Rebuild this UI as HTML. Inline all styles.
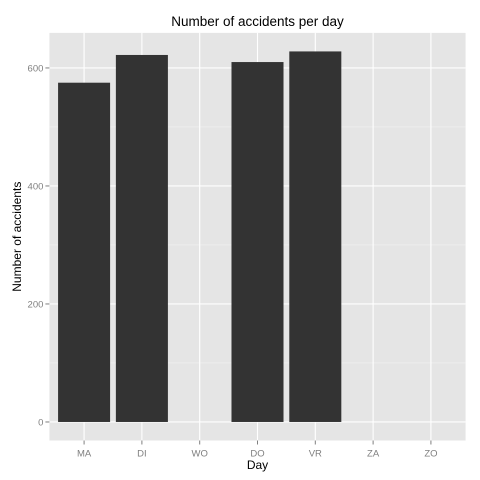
<!DOCTYPE html>
<html><head><meta charset="utf-8"><style>
body{margin:0;background:#fff;}
svg{display:block;font-family:"Liberation Sans",sans-serif;}
</style></head><body>
<svg id="chart" width="480" height="480"></svg>
<script>
const categories = ["MA","DI","WO","DO","VR","ZA","ZO"];
const values = [575, 622, 0, 610, 628, 0, 0];
const yTicks = [0, 200, 400, 600];
const yMinor = [100, 300, 500];

const svg = document.getElementById('chart');
const NS = 'http://www.w3.org/2000/svg';
const pL = 49.4, pR = 465.6, pT = 32.9, pB = 440.5;
const yMin = -31.4, yMax = 659.4;
const y = v => pB - (v - yMin) / (yMax - yMin) * (pB - pT);
const step = (pR - pL) / (categories.length + 0.2);
const x = i => pL + (i + 0.6) * step;
function mk(tag, attrs, parent) {
  const e = document.createElementNS(NS, tag);
  for (const k in attrs) e.setAttribute(k, attrs[k]);
  (parent || svg).appendChild(e);
  return e;
}
const panel = mk('rect', {x:pL, y:pT, width:pR-pL, height:pB-pT, fill:'#e5e5e5'});


yMinor.forEach(v => {
  const l = mk('line', {x1:pL, x2:pR, y1:y(v), y2:y(v), stroke:'#f2f2f2', 'stroke-width':0.6});
  
  
});
yTicks.forEach(v => {
  const l = mk('line', {x1:pL, x2:pR, y1:y(v), y2:y(v), stroke:'#fff', 'stroke-width':1.1});
  
  
  const t = mk('line', {x1:pL-4, x2:pL, y1:y(v), y2:y(v), stroke:'#7f7f7f', 'stroke-width':1});
  
  
  const tx = mk('text', {x:pL-6, y:y(v)+3.5, 'text-anchor':'end', 'font-size':9.5, fill:'#7f7f7f'});
  tx.textContent = v;
  
  
});
categories.forEach((c, i) => {
  const l = mk('line', {x1:x(i), x2:x(i), y1:pT, y2:pB, stroke:'#fff', 'stroke-width':1.1});
  
  
  const t = mk('line', {x1:x(i), x2:x(i), y1:pB, y2:pB+4, stroke:'#7f7f7f', 'stroke-width':1});
  
  
  const tx = mk('text', {x:x(i), y:pB+16, 'text-anchor':'middle', 'font-size':9.5, fill:'#7f7f7f'});
  tx.textContent = c;
  
  
});
const bw = step * 0.9;
values.forEach((v, i) => {
  if (!v) return;
  const b = mk('rect', {x:x(i)-bw/2, y:y(v), width:bw, height:y(0)-y(v), fill:'#333333'});
  
  
});
const title = mk('text', {x:(pL+pR)/2, y:26, 'text-anchor':'middle', 'font-size':13.5, fill:'#000'});
title.textContent = 'Number of accidents per day';


const xt = mk('text', {x:(pL+pR)/2, y:469, 'text-anchor':'middle', 'font-size':12, fill:'#000'});
xt.textContent = 'Day';


const yt = mk('text', {x:0, y:0, 'text-anchor':'middle', 'font-size':12, fill:'#000', transform:'translate(21,'+((pT+pB)/2)+') rotate(-90)'});
yt.textContent = 'Number of accidents';


</script>
</body></html>
